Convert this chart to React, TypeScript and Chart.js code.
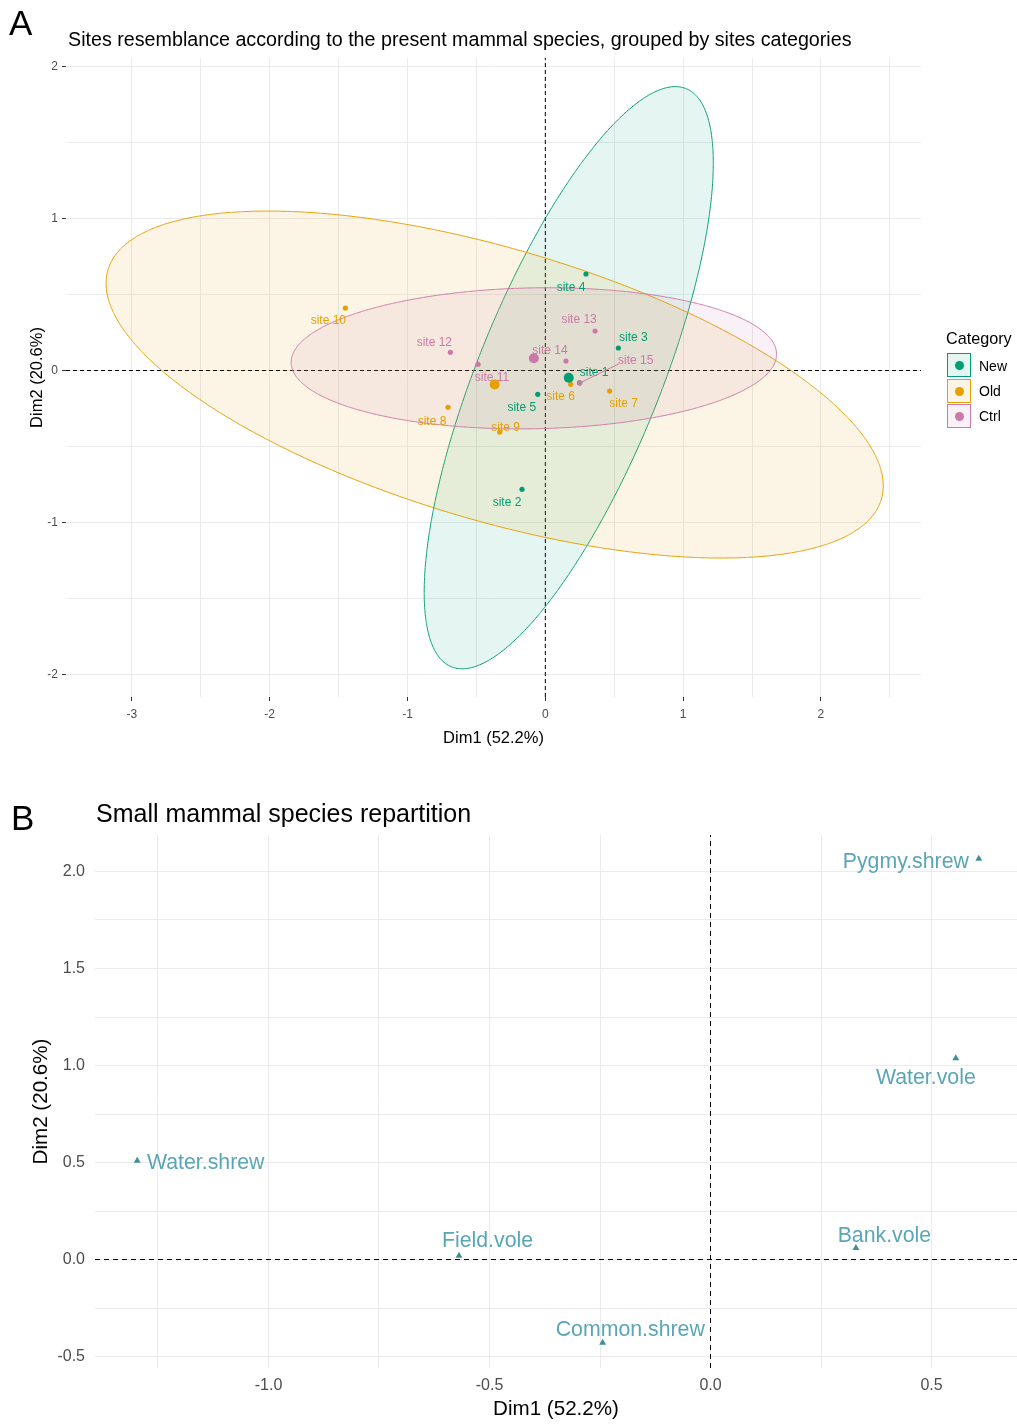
import React, { useEffect, useRef } from "react";
import { Chart, registerables } from "chart.js";

Chart.register(...registerables);

const FONT = '"Liberation Sans", Arial, Helvetica, sans-serif';

// ---------- Panel A data ----------
const SITE_NAMES = [
  "site 1", "site 2", "site 3", "site 4", "site 5",
  "site 6", "site 7", "site 8", "site 9", "site 10",
  "site 11", "site 12", "site 13", "site 14", "site 15",
];
const SITE_CATEGORY = [
  "New", "New", "New", "New", "New",
  "Old", "Old", "Old", "Old", "Old",
  "Ctrl", "Ctrl", "Ctrl", "Ctrl", "Ctrl",
];
const SITE_DIM1 = [0.249, -0.169, 0.530, 0.295, -0.055, 0.184, 0.467, -0.706, -0.331, -1.451, -0.488, -0.689, 0.361, 0.150, 0.250];
const SITE_DIM2 = [-0.081, -0.782, 0.148, 0.635, -0.157, -0.091, -0.135, -0.242, -0.405, 0.411, 0.041, 0.120, 0.260, 0.0625, -0.082];

const CATEGORIES = ["New", "Old", "Ctrl"];
const CATEGORY_COLORS = ["#009E73", "#E69F00", "#CC79A7"];
const CATEGORY_FILLS = ["rgba(0,158,115,0.1)", "rgba(230,159,0,0.1)", "rgba(204,121,167,0.1)"];

const A_X_TICKS = [-3, -2, -1, 0, 1, 2];
const A_Y_TICKS = [-2, -1, 0, 1, 2];
const A_X_GRID = [-3, -2.5, -2, -1.5, -1, -0.5, 0, 0.5, 1, 1.5, 2, 2.5];
const A_Y_GRID = [-2, -1.5, -1, -0.5, 0, 0.5, 1, 1.5, 2];
const A_X_MIN = -3.478;
const A_X_MAX = 2.726;
const A_Y_MIN = -2.148;
const A_Y_MAX = 2.056;

// label placement (pixel offsets from the point, like ggrepel output)
const SITE_LABEL_OFFSETS: Record<string, [number, number]> = {
  "site 1": [14.5, -10],
  "site 2": [-15, 13],
  "site 3": [15, -10],
  "site 4": [-15, 14],
  "site 5": [-16, 13],
  "site 6": [-10, 12],
  "site 7": [14, 13],
  "site 8": [-16, 14],
  "site 9": [6, -4],
  "site 10": [-17, 13],
  "site 11": [14, 13],
  "site 12": [-16, -10],
  "site 13": [-16, -11],
  "site 14": [-16, -10],
  "site 15": [56, -22],
};
const SITE_LABEL_SEGMENTS: Record<string, [number, number]> = {
  "site 15": [39, -19],
};

// ---------- Panel B data ----------
const SPECIES = ["Pygmy.shrew", "Water.vole", "Water.shrew", "Field.vole", "Bank.vole", "Common.shrew"];
const SPECIES_DIM1 = [0.607, 0.555, -1.297, -0.569, 0.329, -0.244];
const SPECIES_DIM2 = [2.066, 1.037, 0.509, 0.020, 0.059, -0.429];

const B_X_TICKS = [-1.0, -0.5, 0.0, 0.5];
const B_Y_TICKS = [-0.5, 0.0, 0.5, 1.0, 1.5, 2.0];
const B_X_GRID = [-1.25, -1.0, -0.75, -0.5, -0.25, 0, 0.25, 0.5];
const B_Y_GRID = [-0.5, -0.25, 0, 0.25, 0.5, 0.75, 1.0, 1.25, 1.5, 1.75, 2.0];
const B_X_MIN = -1.3925;
const B_X_MAX = 0.6934;
const B_Y_MIN = -0.559;
const B_Y_MAX = 2.188;

const SPECIES_LABEL_OFFSETS: Record<string, [number, number]> = {
  "Pygmy.shrew": [-73, 3],
  "Water.vole": [-30, 20],
  "Water.shrew": [68.5, 2.6],
  "Field.vole": [28.5, -14.4],
  "Bank.vole": [28.5, -12],
  "Common.shrew": [27.6, -12.7],
};

const SPECIES_POINT_COLOR = "#3E8F98";
const SPECIES_TEXT_COLOR = "#5AA6B6";
const GRID_COLOR = "#EBEBEB";
const TICK_TEXT = "#4D4D4D";

// ---------- helpers ----------
function mean(a: number[]) {
  return a.reduce((s, v) => s + v, 0) / a.length;
}

// 95% normal data ellipse (as ggplot2 stat_ellipse type = "norm")
function ellipsePoints(xs: number[], ys: number[], level = 0.95, segments = 160) {
  const n = xs.length;
  const mx = mean(xs);
  const my = mean(ys);
  let sxx = 0, syy = 0, sxy = 0;
  for (let i = 0; i < n; i++) {
    sxx += (xs[i] - mx) ** 2;
    syy += (ys[i] - my) ** 2;
    sxy += (xs[i] - mx) * (ys[i] - my);
  }
  sxx /= n - 1;
  syy /= n - 1;
  sxy /= n - 1;
  const df2 = n - 1;
  const fq = (df2 / 2) * (Math.pow(1 - level, -2 / df2) - 1); // qf(level, 2, df2)
  const r = Math.sqrt(2 * fq);
  const a = Math.sqrt(sxx);
  const b = sxy / a;
  const c = Math.sqrt(Math.max(syy - b * b, 0));
  const pts: { x: number; y: number }[] = [];
  for (let k = 0; k <= segments; k++) {
    const t = (2 * Math.PI * k) / segments;
    const u = Math.cos(t);
    const v = Math.sin(t);
    pts.push({ x: mx + r * a * u, y: my + r * (b * u + c * v) });
  }
  return pts;
}

const siteLabelPlugin = {
  id: "siteLabels",
  afterDatasetsDraw(chart: any) {
    const { ctx } = chart;
    const xs = chart.scales.x;
    const ys = chart.scales.y;
    ctx.save();
    ctx.font = `12px ${FONT}`;
    ctx.textAlign = "center";
    ctx.textBaseline = "middle";
    SITE_NAMES.forEach((name, i) => {
      const px = xs.getPixelForValue(SITE_DIM1[i]);
      const py = ys.getPixelForValue(SITE_DIM2[i]);
      const color = CATEGORY_COLORS[CATEGORIES.indexOf(SITE_CATEGORY[i])];
      const [dx, dy] = SITE_LABEL_OFFSETS[name];
      const seg = SITE_LABEL_SEGMENTS[name];
      if (seg) {
        ctx.strokeStyle = color;
        ctx.lineWidth = 1;
        ctx.beginPath();
        ctx.moveTo(px, py);
        ctx.lineTo(px + seg[0], py + seg[1]);
        ctx.stroke();
      }
      ctx.fillStyle = color;
      ctx.fillText(name, px + dx, py + dy);
    });
    ctx.restore();
  },
};

const speciesLabelPlugin = {
  id: "speciesLabels",
  afterDatasetsDraw(chart: any) {
    const { ctx } = chart;
    const xs = chart.scales.x;
    const ys = chart.scales.y;
    ctx.save();
    ctx.font = `21.3px ${FONT}`;
    ctx.textAlign = "center";
    ctx.textBaseline = "middle";
    ctx.fillStyle = SPECIES_TEXT_COLOR;
    SPECIES.forEach((name, i) => {
      const px = xs.getPixelForValue(SPECIES_DIM1[i]);
      const py = ys.getPixelForValue(SPECIES_DIM2[i]);
      const [dx, dy] = SPECIES_LABEL_OFFSETS[name];
      ctx.fillText(name, px + dx, py + dy);
    });
    ctx.restore();
  },
};

function makeAxis(opts: {
  min: number; max: number; grid: number[]; major: number[];
  fmt: (v: number) => string; fit: (s: any) => void;
  fontSize: number; padding: number; drawTicks: boolean;
  title: string; titleSize: number; titlePadding: any;
}) {
  return {
    type: "linear",
    min: opts.min,
    max: opts.max,
    afterBuildTicks: (s: any) => {
      s.ticks = opts.grid.map((v) => ({ value: v }));
    },
    afterFit: opts.fit,
    ticks: {
      autoSkip: false,
      maxRotation: 0,
      minRotation: 0,
      padding: opts.padding,
      color: TICK_TEXT,
      font: { family: FONT, size: opts.fontSize },
      callback: (v: number) => (opts.major.includes(v) ? opts.fmt(v) : ""),
    },
    grid: {
      color: GRID_COLOR,
      lineWidth: 1,
      drawTicks: opts.drawTicks,
      tickLength: 4,
      tickWidth: 1,
      tickColor: (c: any) =>
        c.tick && opts.major.includes(c.tick.value) ? "#333333" : "rgba(0,0,0,0)",
    },
    border: { display: false },
    title: {
      display: true,
      text: opts.title,
      color: "#000000",
      font: { family: FONT, size: opts.titleSize },
      padding: opts.titlePadding,
    },
  };
}

function groupIndices(cat: string) {
  return SITE_CATEGORY.map((g, i) => (g === cat ? i : -1)).filter((i) => i >= 0);
}

function buildConfigA(): any {
  const datasets: any[] = [];
  datasets.push({
    type: "line",
    data: [{ x: A_X_MIN, y: 0 }, { x: A_X_MAX, y: 0 }],
    borderColor: "#000000",
    borderWidth: 1,
    borderDash: [4, 3],
    pointRadius: 0,
    fill: false,
    order: 20,
  });
  datasets.push({
    type: "line",
    data: [{ x: 0, y: A_Y_MIN }, { x: 0, y: A_Y_MAX }],
    borderColor: "#000000",
    borderWidth: 1,
    borderDash: [4, 3],
    pointRadius: 0,
    fill: false,
    order: 20,
  });
  CATEGORIES.forEach((cat, ci) => {
    const idx = groupIndices(cat);
    datasets.push({
      type: "line",
      data: ellipsePoints(idx.map((i) => SITE_DIM1[i]), idx.map((i) => SITE_DIM2[i])),
      borderColor: CATEGORY_COLORS[ci],
      backgroundColor: CATEGORY_FILLS[ci],
      borderWidth: 1,
      pointRadius: 0,
      fill: "shape",
      tension: 0.001,
      capBezierPoints: false,
      order: 15 - ci,
    });
  });
  CATEGORIES.forEach((cat, ci) => {
    const idx = groupIndices(cat);
    datasets.push({
      type: "scatter",
      data: idx.map((i) => ({ x: SITE_DIM1[i], y: SITE_DIM2[i] })),
      backgroundColor: CATEGORY_COLORS[ci],
      borderWidth: 0,
      pointRadius: 2.6,
      order: 6 - ci,
    });
  });
  CATEGORIES.forEach((cat, ci) => {
    const idx = groupIndices(cat);
    datasets.push({
      type: "scatter",
      data: [{ x: mean(idx.map((i) => SITE_DIM1[i])), y: mean(idx.map((i) => SITE_DIM2[i])) }],
      backgroundColor: CATEGORY_COLORS[ci],
      borderWidth: 0,
      pointRadius: 5,
      order: 3 - ci,
    });
  });

  return {
    type: "scatter",
    data: { datasets },
    options: {
      responsive: false,
      animation: false,
      devicePixelRatio: 1,
      events: [],
      layout: { autoPadding: false, padding: { left: 0, right: 96, top: 58, bottom: 0 } },
      plugins: { legend: { display: false }, tooltip: { enabled: false }, title: { display: false } },
      scales: {
        x: makeAxis({
          min: A_X_MIN, max: A_X_MAX, grid: A_X_GRID, major: A_X_TICKS,
          fmt: (v) => String(v),
          fit: (s: any) => { s.height = 63; },
          fontSize: 12, padding: 6, drawTicks: true,
          title: "Dim1 (52.2%)", titleSize: 16.5, titlePadding: { top: 0, bottom: 12 },
        }),
        y: makeAxis({
          min: A_Y_MIN, max: A_Y_MAX, grid: A_Y_GRID, major: A_Y_TICKS,
          fmt: (v) => String(v),
          fit: (s: any) => { s.width = 66; },
          fontSize: 12, padding: 4, drawTicks: true,
          title: "Dim2 (20.6%)", titleSize: 16.5, titlePadding: { top: 28, bottom: 0 },
        }),
      },
    },
    plugins: [siteLabelPlugin],
  };
}

function buildConfigB(): any {
  const datasets: any[] = [
    {
      type: "line",
      data: [{ x: B_X_MIN, y: 0 }, { x: B_X_MAX, y: 0 }],
      borderColor: "#000000",
      borderWidth: 1,
      borderDash: [5, 4],
      pointRadius: 0,
      fill: false,
      order: 10,
    },
    {
      type: "line",
      data: [{ x: 0, y: B_Y_MIN }, { x: 0, y: B_Y_MAX }],
      borderColor: "#000000",
      borderWidth: 1,
      borderDash: [5, 4],
      pointRadius: 0,
      fill: false,
      order: 10,
    },
    {
      type: "scatter",
      data: SPECIES.map((_, i) => ({ x: SPECIES_DIM1[i], y: SPECIES_DIM2[i] })),
      pointStyle: "triangle",
      pointRadius: 4,
      backgroundColor: SPECIES_POINT_COLOR,
      borderColor: SPECIES_POINT_COLOR,
      borderWidth: 0,
      order: 1,
    },
  ];
  return {
    type: "scatter",
    data: { datasets },
    options: {
      responsive: false,
      animation: false,
      devicePixelRatio: 1,
      events: [],
      layout: { autoPadding: false, padding: { left: 0, right: 0, top: 75, bottom: 0 } },
      plugins: { legend: { display: false }, tooltip: { enabled: false }, title: { display: false } },
      scales: {
        x: makeAxis({
          min: B_X_MIN, max: B_X_MAX, grid: B_X_GRID, major: B_X_TICKS,
          fmt: (v) => v.toFixed(1),
          fit: (s: any) => { s.height = 57; },
          fontSize: 16, padding: 8, drawTicks: false,
          title: "Dim1 (52.2%)", titleSize: 20.6, titlePadding: { top: 0, bottom: 3 },
        }),
        y: makeAxis({
          min: B_Y_MIN, max: B_Y_MAX, grid: B_Y_GRID, major: B_Y_TICKS,
          fmt: (v) => v.toFixed(1),
          fit: (s: any) => { s.width = 95; },
          fontSize: 16, padding: 10, drawTicks: false,
          title: "Dim2 (20.6%)", titleSize: 20.6, titlePadding: { top: 29, bottom: 0 },
        }),
      },
    },
    plugins: [speciesLabelPlugin],
  };
}

function Txt(props: { x: number; y: number; size: number; text: string; color?: string }) {
  const { x, y, size, text, color = "#000000" } = props;
  return (
    <div
      style={{
        position: "absolute",
        left: x,
        top: y - size,
        height: size * 2,
        lineHeight: `${size * 2}px`,
        fontSize: size,
        fontFamily: FONT,
        color,
        whiteSpace: "nowrap",
      }}
    >
      {text}
    </div>
  );
}

function LegendKey(props: { y: number; ci: number }) {
  const { y, ci } = props;
  return (
    <div
      style={{
        position: "absolute",
        left: 947,
        top: y,
        width: 22,
        height: 22,
        border: `1px solid ${CATEGORY_COLORS[ci]}`,
        background: CATEGORY_FILLS[ci],
      }}
    >
      <div
        style={{
          position: "absolute",
          left: 6.5,
          top: 6.5,
          width: 9,
          height: 9,
          borderRadius: "50%",
          background: CATEGORY_COLORS[ci],
        }}
      />
    </div>
  );
}

export default function App() {
  const refA = useRef<HTMLCanvasElement | null>(null);
  const refB = useRef<HTMLCanvasElement | null>(null);

  useEffect(() => {
    const a = new Chart(refA.current as HTMLCanvasElement, buildConfigA());
    const b = new Chart(refB.current as HTMLCanvasElement, buildConfigB());
    return () => {
      a.destroy();
      b.destroy();
    };
  }, []);

  const legendYs = [353, 379, 404];
  const legendTextYs = [365.7, 390.8, 415.7];

  return (
    <div
      style={{
        position: "absolute",
        left: 0,
        top: 0,
        width: 1017,
        height: 1425,
        background: "#ffffff",
        overflow: "hidden",
      }}
    >
      <canvas
        ref={refA}
        width={1017}
        height={760}
        style={{ position: "absolute", left: 0, top: 0, width: 1017, height: 760, display: "block" }}
      />
      <canvas
        ref={refB}
        width={1017}
        height={665}
        style={{ position: "absolute", left: 0, top: 760, width: 1017, height: 665, display: "block" }}
      />
      <Txt x={9} y={23} size={35} text="A" />
      <Txt x={68} y={40} size={19.7} text="Sites resemblance according to the present mammal species, grouped by sites categories" />
      <Txt x={946} y={338.5} size={16.2} text="Category" />
      {CATEGORIES.map((c, ci) => (
        <React.Fragment key={c}>
          <LegendKey y={legendYs[ci]} ci={ci} />
          <Txt x={979} y={legendTextYs[ci]} size={14} text={c} />
        </React.Fragment>
      ))}
      <Txt x={11} y={818} size={35} text="B" />
      <Txt x={96} y={813} size={25} text="Small mammal species repartition" />
    </div>
  );
}
